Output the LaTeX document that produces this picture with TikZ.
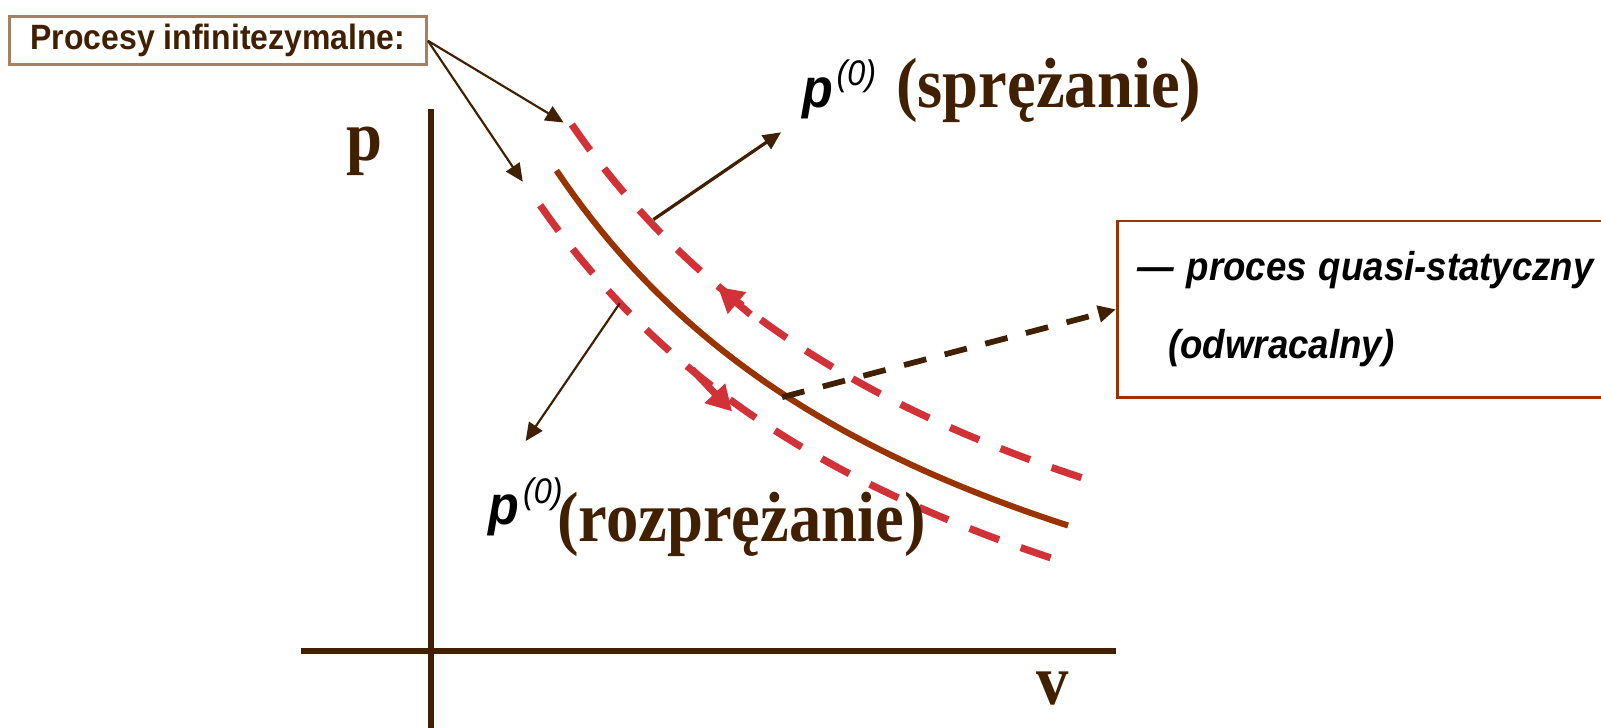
\documentclass[tikz,border=0pt]{standalone}
\usepackage{fontspec}
\setmainfont{Liberation Serif}
\setsansfont{Liberation Sans}
\usepackage{tikz}
\usetikzlibrary{positioning, arrows.meta}

\definecolor{darkbrown}{RGB}{64,32,0}
\definecolor{rust}{RGB}{153,51,0}
\definecolor{dashred}{RGB}{208,50,56}
\definecolor{tanline}{RGB}{166,128,96}
\newcommand{\tallt}[1]{\scalebox{1}[1.1]{#1}}
\newcommand{\pzero}{{\sffamily\bfseries\itshape\fontsize{14}{14}\selectfont\tallt{p}}\kern1pt\raisebox{6pt}{\sffamily\itshape\fontsize{9}{9}\selectfont\tallt{(0)}}}

\begin{document}
\begin{tikzpicture}[
      x=0.01cm, y=-0.01cm,
      axis/.style={line width=1.7pt, darkbrown},
      curve/.style={line width=1.7pt, rust},
      reddash/.style={line width=2pt, dashred, dash pattern=on 8.8pt off 6.4pt},
      redarrow/.style={-{Triangle[length=7pt,width=7.5pt]}, line width=2pt, dashred},
      arrow/.style={-{Triangle[length=5pt,width=4.5pt]}, line width=0.6pt, darkbrown},
      box/.style={draw, line width=0.8pt, inner ysep=0pt, anchor=north west},
      big/.style={font=\fontsize{18}{18}\selectfont\bfseries, text=darkbrown, inner sep=0pt}
    ]
      \useasboundingbox (0,0) rectangle (1568,713);

      \node[box, draw=tanline, minimum width=4.08cm, minimum height=0.47cm, inner xsep=0pt, text=darkbrown, font=\sffamily\bfseries\fontsize{8.9}{10}\selectfont] (infin) at (8,15) {\tallt{Procesy infinitezymalne:}};
      \node[box, draw=rust, minimum width=5.2cm, minimum height=1.73cm, text width=4.8cm, inner xsep=0.17cm, align=left, font=\sffamily\bfseries\itshape\fontsize{10.2}{12.2}\selectfont] (quasi) at (1093,215) {\tallt{— proces quasi-statyczny}\\[9.5pt]\hspace*{8.5pt}\tallt{(odwracalny)}\par\vspace*{3pt}};

      \coordinate (ytop) at (422,107);
      \coordinate (ybot) at (422,713);
      \coordinate (xleft) at (295,638);
      \coordinate (xright) at (1093,638);
      \draw[axis] (ytop) -- (ybot);
      \draw[axis] (xleft) -- (xright);
      \node[big, anchor=base] (plab) at (357,157) {\tallt{p}};
      \node[big, anchor=base] (vlab) at (1031,690) {\tallt{v}};

      \draw[curve] plot[domain=545:1046, samples=60] (\x, {819.8-2870.2/((\x-105.3)/100)});
      \draw[reddash] plot[domain=560:1063, samples=60] (\x, {783.6-3015.58/((\x-104.2)/100)});
      \draw[reddash] plot[domain=529:1031, samples=60] (\x, {866.9-3090.29/((\x-64.9)/100)});

      \coordinate (upS) at (735,308);
      \coordinate (upT) at (703,281);
      \coordinate (lowS) at (678,362);
      \coordinate (lowT) at (717,403);
      \draw[redarrow] (upS) -- (upT);
      \draw[redarrow] (lowS) -- (lowT);

      \coordinate (infA) at (552,120);
      \coordinate (infB) at (512,178);
      \coordinate (sprA) at (640,215);
      \coordinate (rozA) at (607,297);
      \coordinate (mid) at (766,389);

      \node[anchor=base west, inner xsep=0.2cm, inner ysep=0.09cm] (spr) at (765,105) {\pzero\hspace{5.6pt}{\fontsize{18}{18}\selectfont\bfseries\color{darkbrown}\tallt{(sprężanie)}}};
      \node[anchor=base west, inner xsep=0pt, inner ysep=0.35cm] (rozp) at (478,514) {\pzero};
      \node[big, anchor=base west] (roz) at (545,530) {\tallt{(rozprężanie)}};

      \draw[arrow] (infin.east) -- (infA);
      \draw[arrow] (infin.east) -- (infB);
      \draw[arrow, line width=0.9pt] (sprA) -- (spr.south west);
      \draw[arrow] (rozA) -- (rozp.north);
      \draw[arrow, line width=1.6pt, dash pattern=on 6.4pt off 5.3pt] (mid) -- (quasi.west);
    \end{tikzpicture}
\end{document}
